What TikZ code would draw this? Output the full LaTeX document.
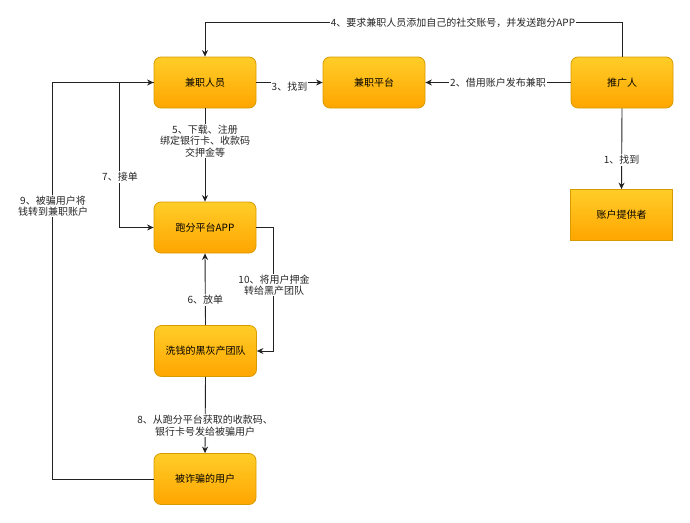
\documentclass[tikz,border=0pt]{standalone}
\usepackage{fontspec}
\setmainfont{Noto Sans CJK SC}
\usetikzlibrary{arrows.meta}
\definecolor{boxtop}{HTML}{FFCD28}
\definecolor{boxbot}{HTML}{FFA500}
\definecolor{boxline}{HTML}{D79B00}
\definecolor{edgecol}{HTML}{222222}
\begin{document}
\begin{tikzpicture}[x=1pt,y=-1pt,
  box/.style={draw=boxline, line width=0.8pt, top color=boxtop, bottom color=boxbot,
    rounded corners=7pt, minimum width=102pt, minimum height=51pt, inner sep=0pt,
    font=\fontsize{10}{12}\selectfont, text=black},
  sqbox/.style={box, rounded corners=0pt},
  arr/.style={draw=edgecol, line width=0.9pt, -{Stealth[length=6.5pt,width=6pt]}},
  lbl/.style={fill=white, inner sep=1pt, align=center,
    font=\fontsize{10}{11.5}\selectfont, text=black!85}]
\useasboundingbox (0,0) rectangle (690,522);

\node[box] (pt) at (205,82.5) {兼职人员};
\node[box] (pf) at (374,82.5) {兼职平台};
\node[box] (tg) at (622,82.5) {推广人};
\node[sqbox] (zh) at (621.5,215) {账户提供者};
\node[box] (app) at (205,227.5) {跑分平台APP};
\node[box] (xq) at (205.5,351) {洗钱的黑灰产团队};
\node[box] (sh) at (205,479) {被诈骗的用户};

% 4
\draw[arr] (tg.north) -- ++(0,-34) -| (pt.north);
\node[lbl] (l4) at (453,23) {4、要求兼职人员添加自己的社交账号，并发送跑分APP};
% 2
\draw[arr] (tg.west) -- node[lbl] (l2) {2、借用账户发布兼职} (pf.east);
% 3
\draw[arr] (pt.east) -- node[lbl, yshift=-4pt] (l3) {3、找到} (pf.west);
% 1
\draw[arr] (tg.south) -- node[lbl, pos=0.64] (l1) {1、找到} (zh.north);
% 5
\draw[arr] (pt.south) -- node[lbl, pos=0.35] (l5) {5、下载、注册\\绑定银行卡、收款码\\交押金等} (app.north);
% 9
\draw[arr] (sh.west) -- ++(-101,0) |- (pt.west);
\node[lbl] (l9) at (53,206) {9、被骗用户将\\钱转到兼职账户};
% 7
\draw[arr] (pt.west) -- ++(-34,0) |- (app.west);
\node[lbl] (l7) at (120,177) {7、接单};
% 10
\draw[arr] (app.east) -- ++(17,0) |- (xq.east);
\node[lbl] (l10) at (274,285) {10、将用户押金\\转给黑产团队};
% 6
\draw[arr] (xq.north) -- node[lbl, pos=0.35] (l6) {6、放单} (app.south);
% 8
\draw[arr] (xq.south) -- node[lbl, pos=0.64] (l8) {8、从跑分平台获取的收款码、\\银行卡号发给被骗用户} (sh.north);
\end{tikzpicture}
\end{document}
